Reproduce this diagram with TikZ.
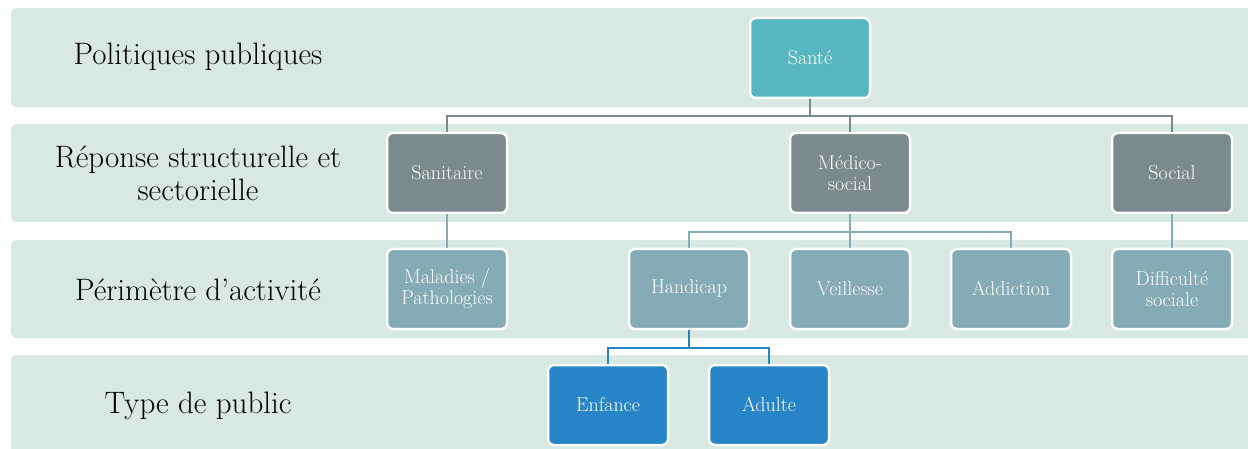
\documentclass[tikz,border=0pt]{standalone}
\usepackage{tikz}
\usetikzlibrary{calc}

\definecolor{bandbg}{HTML}{D8E8E3}
\definecolor{santecol}{HTML}{58B6C0}
\definecolor{greycol}{HTML}{7B8B8D}
\definecolor{paleblue}{HTML}{85ACB6}
\definecolor{publicblue}{HTML}{2784C7}

\tikzset{
  band/.style={fill=bandbg, rounded corners=6pt},
  rowlabel/.style={align=center, font=\fontsize{31}{33}\selectfont},
  box/.style={draw=white, line width=2.5pt, rounded corners=6pt,
    minimum width=120pt, minimum height=80pt, align=center,
    text=white, font=\fontsize{20}{21}\selectfont},
  boxtop/.style={box, fill=santecol},
  boxsector/.style={box, fill=greycol},
  boxscope/.style={box, fill=paleblue},
  boxpublic/.style={box, fill=publicblue},
  link/.style={line width=2.6pt}
}

\begin{document}
\begin{tikzpicture}[x=1pt,y=-1pt]
  \def\W{1248}  % picture width (px)
  \def\H{449}   % picture height (px)
  \def\lx{198}  % centre of the row labels

  \useasboundingbox (0,0) rectangle (\W,\H);
  \clip (0,0) rectangle (\W,\H);

  % Background bands
  \fill[band] (11,8)   rectangle (\W+20,107);
  \fill[band] (11,124) rectangle (\W+20,222);
  \fill[band] (11,240) rectangle (\W+20,338);
  \fill[band] (11,355) rectangle (\W+20,\H+20);

  % Row labels
  \node[rowlabel] (lpol)  at (\lx,57)  {Politiques publiques};
  \node[rowlabel] (lrep)  at (\lx,173) {Réponse structurelle et\\sectorielle};
  \node[rowlabel] (lper)  at (\lx,290) {Périmètre d'activité};
  \node[rowlabel] (ltype) at (\lx,406) {Type de public};

  % Boxes
  \node[boxtop]    (sante)      at (810,58)   {Santé};
  \node[boxsector] (sanitaire)  at (447,173)  {Sanitaire};
  \node[boxsector] (medico)     at (850,173)  {Médico-\\social};
  \node[boxsector] (social)     at (1172,173) {Social};
  \node[boxscope]  (maladies)   at (447,289)  {Maladies /\\Pathologies};
  \node[boxscope]  (handicap)   at (689,289)  {Handicap};
  \node[boxscope]  (veillesse)  at (850,289)  {Veillesse};
  \node[boxscope]  (addiction)  at (1011,289) {Addiction};
  \node[boxscope]  (difficulte) at (1172,289) {Difficulté\\sociale};
  \node[boxpublic] (enfance)    at (608,405)  {Enfance};
  \node[boxpublic] (adulte)     at (769,405)  {Adulte};

  % Connectors
  \coordinate (jsante)  at (810,116);
  \coordinate (jmedico) at (850,232);
  \coordinate (jhandi)  at (689,348);

  \draw[link, greycol] (sante.south) -- (jsante) -| (sanitaire.north);
  \draw[link, greycol] (jsante) -| (medico.north);
  \draw[link, greycol] (jsante) -| (social.north);

  \draw[link, paleblue] (sanitaire.south) -- (maladies.north);
  \draw[link, paleblue] (medico.south) -- (jmedico) -| (handicap.north);
  \draw[link, paleblue] (jmedico) -- (veillesse.north);
  \draw[link, paleblue] (jmedico) -| (addiction.north);
  \draw[link, paleblue] (social.south) -- (difficulte.north);

  \draw[link, publicblue] (handicap.south) -- (jhandi) -| (enfance.north);
  \draw[link, publicblue] (jhandi) -| (adulte.north);
\end{tikzpicture}
\end{document}
